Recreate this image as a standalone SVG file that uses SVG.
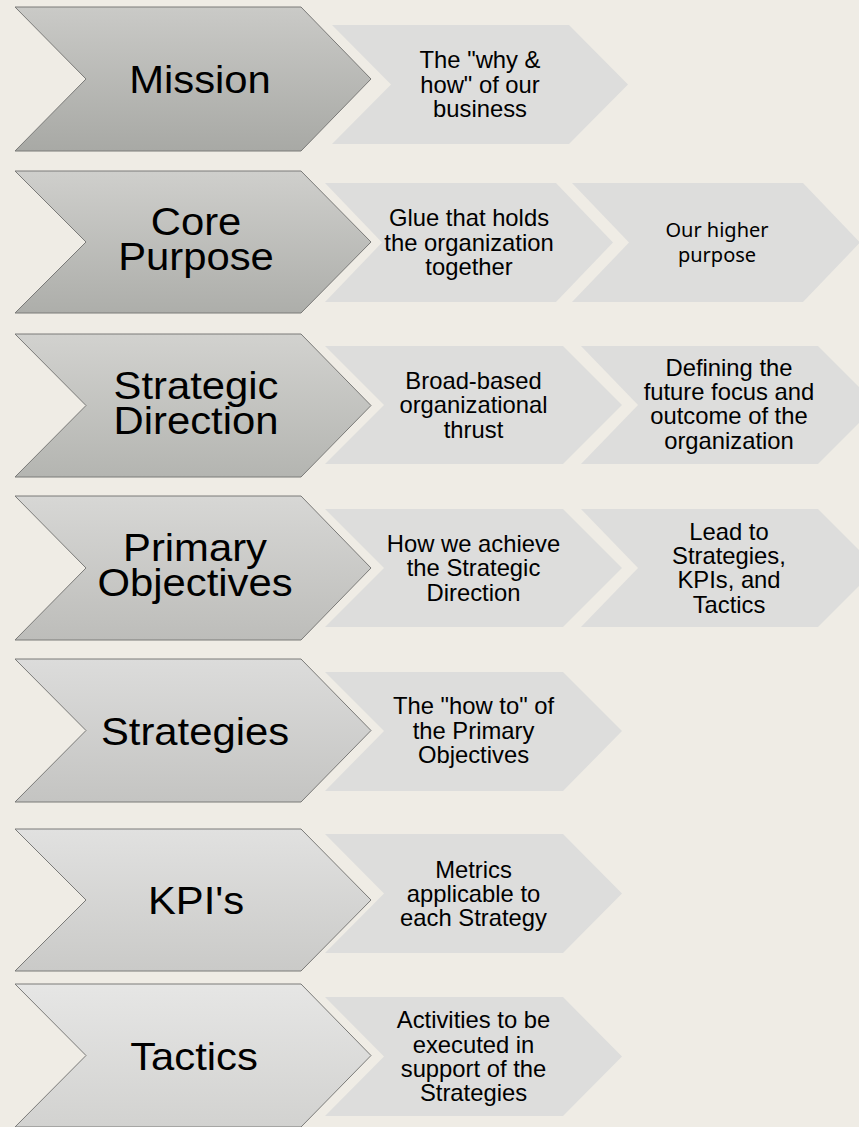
<svg xmlns="http://www.w3.org/2000/svg" width="859" height="1127" viewBox="0 0 859 1127">
<defs>
<linearGradient id="g1" x1="0" y1="0" x2="0" y2="1"><stop offset="0" stop-color="#cacac7"/><stop offset="1" stop-color="#a8a9a5"/></linearGradient>
<linearGradient id="g2" x1="0" y1="0" x2="0" y2="1"><stop offset="0" stop-color="#cfcfcc"/><stop offset="1" stop-color="#adaeaa"/></linearGradient>
<linearGradient id="g3" x1="0" y1="0" x2="0" y2="1"><stop offset="0" stop-color="#d2d2cf"/><stop offset="1" stop-color="#b4b5b1"/></linearGradient>
<linearGradient id="g4" x1="0" y1="0" x2="0" y2="1"><stop offset="0" stop-color="#d7d7d5"/><stop offset="1" stop-color="#bdbdba"/></linearGradient>
<linearGradient id="g5" x1="0" y1="0" x2="0" y2="1"><stop offset="0" stop-color="#dcdcdb"/><stop offset="1" stop-color="#c4c4c2"/></linearGradient>
<linearGradient id="g6" x1="0" y1="0" x2="0" y2="1"><stop offset="0" stop-color="#e1e1e0"/><stop offset="1" stop-color="#cacac8"/></linearGradient>
<linearGradient id="g7" x1="0" y1="0" x2="0" y2="1"><stop offset="0" stop-color="#e6e6e5"/><stop offset="1" stop-color="#d2d2d0"/></linearGradient>
</defs>
<style>
.main{stroke:#7a7a78;stroke-width:1;}
.sub{fill:#dddddc;stroke:none;}
.mt{font-family:"Liberation Sans",Arial,sans-serif;font-size:38px;fill:#000;text-anchor:middle;}
.st{font-family:"Liberation Sans",Arial,sans-serif;font-size:23.8px;fill:#000;text-anchor:middle;}
.nt{font-family:"Noto Sans",sans-serif;font-size:20px;fill:#000;text-anchor:middle;}
</style>
<rect width="859" height="1127" fill="#efece5"/>
<g id="connectors"></g>

<g id="mission">
<polygon class="main" fill="url(#g1)" points="15,7 301,7 371,79 301,151 15,151 86,79"/>
<text class="mt" transform="translate(200,93) scale(1.1,1)">Mission</text>
</g>
<g id="mission-desc">
<polygon class="sub" points="332,25 569,25 628,84.5 569,144 332,144 391,84.5"/>
<text class="st" x="480" y="68.4">The "why &amp;</text>
<text class="st" x="480" y="92.8">how" of our</text>
<text class="st" x="480" y="117.2">business</text>
</g>

<g id="core-purpose">
<polygon class="main" fill="url(#g2)" points="15,171 301,171 371,242 301,313 15,313 86,242"/>
<text class="mt" transform="translate(196,235) scale(1.1,1)">Core</text>
<text class="mt" transform="translate(196,270) scale(1.1,1)">Purpose</text>
</g>
<g id="core-purpose-desc1">
<polygon class="sub" points="325,183 556,183 613,242.5 556,302 325,302 382,242.5"/>
<text class="st" x="469" y="226.4">Glue that holds</text>
<text class="st" x="469" y="250.8">the organization</text>
<text class="st" x="469" y="275.2">together</text>
</g>
<g id="core-purpose-desc2">
<polygon class="sub" points="572,183 803,183 860,242.5 803,302 572,302 629,242.5"/>
<text class="nt" x="717" y="237.3">Our higher</text>
<text class="nt" x="717" y="261.7">purpose</text>
</g>

<g id="strategic-direction">
<polygon class="main" fill="url(#g3)" points="15,334 301,334 371,405.5 301,477 15,477 86,405.5"/>
<text class="mt" transform="translate(196,398.5) scale(1.1,1)">Strategic</text>
<text class="mt" transform="translate(196,433.5) scale(1.1,1)">Direction</text>
</g>
<g id="strategic-direction-desc1">
<polygon class="sub" points="325,346 563,346 622,405 563,464 325,464 384,405"/>
<text class="st" x="473.5" y="389">Broad-based</text>
<text class="st" x="473.5" y="413.4">organizational</text>
<text class="st" x="473.5" y="437.8">thrust</text>
</g>
<g id="strategic-direction-desc2">
<polygon class="sub" points="581,346 818,346 877,405 818,464 581,464 638,405"/>
<text class="st" x="729" y="375.5">Defining the</text>
<text class="st" x="729" y="400">future focus and</text>
<text class="st" x="729" y="424.3">outcome of the</text>
<text class="st" x="729" y="448.7">organization</text>
</g>

<g id="primary-objectives">
<polygon class="main" fill="url(#g4)" points="15,496 301,496 371,568 301,640 15,640 86,568"/>
<text class="mt" transform="translate(195,561) scale(1.1,1)">Primary</text>
<text class="mt" transform="translate(195,596) scale(1.1,1)">Objectives</text>
</g>
<g id="primary-objectives-desc1">
<polygon class="sub" points="325,509 563,509 622,568 563,627 325,627 384,568"/>
<text class="st" x="473.5" y="552">How we achieve</text>
<text class="st" x="473.5" y="576.4">the Strategic</text>
<text class="st" x="473.5" y="600.8">Direction</text>
</g>
<g id="primary-objectives-desc2">
<polygon class="sub" points="581,509 818,509 877,568 818,627 581,627 638,568"/>
<text class="st" x="729" y="539.5">Lead to</text>
<text class="st" x="729" y="563.9">Strategies,</text>
<text class="st" x="729" y="588.3">KPIs, and</text>
<text class="st" x="729" y="612.7">Tactics</text>
</g>

<g id="strategies">
<polygon class="main" fill="url(#g5)" points="15,659 301,659 371,730.5 301,802 15,802 86,730.5"/>
<text class="mt" transform="translate(195,744.5) scale(1.1,1)">Strategies</text>
</g>
<g id="strategies-desc">
<polygon class="sub" points="325,672 563,672 622,731 563,791 325,791 384,731"/>
<text class="st" x="473.5" y="714.3">The "how to" of</text>
<text class="st" x="473.5" y="738.7">the Primary</text>
<text class="st" x="473.5" y="763.1">Objectives</text>
</g>

<g id="kpis">
<polygon class="main" fill="url(#g6)" points="15,829 301,829 371,900 301,971 15,971 86,900"/>
<text class="mt" transform="translate(196,914) scale(1.1,1)">KPI's</text>
</g>
<g id="kpis-desc">
<polygon class="sub" points="325,834 563,834 622,893.5 563,953 325,953 384,893.5"/>
<text class="st" x="473.5" y="877.6">Metrics</text>
<text class="st" x="473.5" y="902">applicable to</text>
<text class="st" x="473.5" y="926.4">each Strategy</text>
</g>

<g id="tactics">
<polygon class="main" fill="url(#g7)" points="15,984 301,984 371,1055.5 301,1127 15,1127 86,1055.5"/>
<text class="mt" transform="translate(194,1069.5) scale(1.1,1)">Tactics</text>
</g>
<g id="tactics-desc">
<polygon class="sub" points="325,997 563,997 622,1056.5 563,1116 325,1116 384,1056.5"/>
<text class="st" x="473.5" y="1028.2">Activities to be</text>
<text class="st" x="473.5" y="1052.6">executed in</text>
<text class="st" x="473.5" y="1077">support of the</text>
<text class="st" x="473.5" y="1101.4">Strategies</text>
</g>
</svg>
